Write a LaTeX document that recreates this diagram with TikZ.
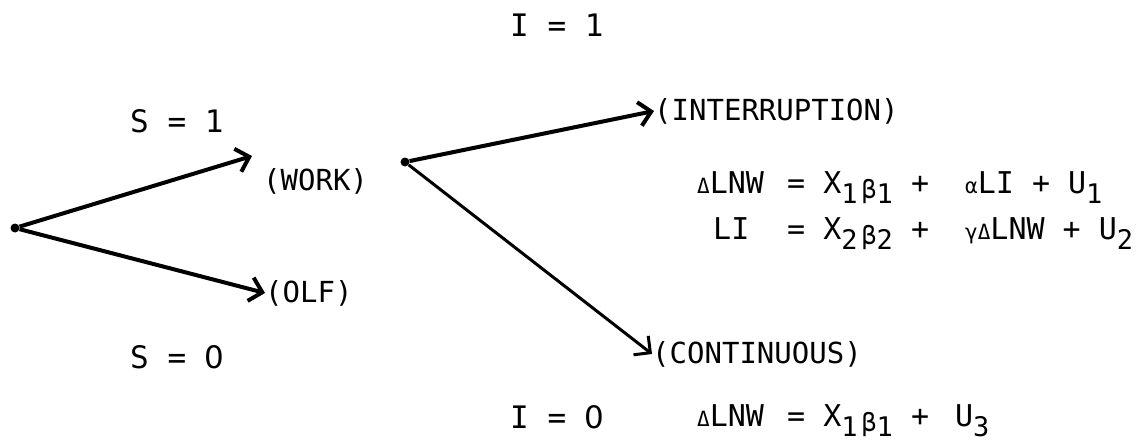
\documentclass[tikz,border=0pt]{standalone}
\usepackage{fontspec}
\setmainfont{DejaVu Sans Mono}
\newfontfamily\zerofont{DejaVu Sans}
\usetikzlibrary{positioning,calc,arrows.meta}

\newcommand{\lo}[1]{\raisebox{-10pt}{\fontsize{27}{27}\selectfont #1}}
\newcommand{\gr}[1]{{\fontsize{21}{21}\selectfont #1}}
\newcommand{\grb}[1]{\hspace{4pt}\raisebox{-5pt}{\fontsize{25}{25}\selectfont #1}}
\newcommand{\zro}{{\zerofont 0}}

\tikzset{
	dot/.style={circle,fill,inner sep=0pt,minimum size=9pt},
	lbl/.style={inner sep=0pt,font=\fontsize{29}{30}\selectfont},
	cond/.style={inner sep=0pt,font=\fontsize{31}{32}\selectfont},
	eqn/.style={inner sep=0pt,anchor=base west,font=\fontsize{30}{31}\selectfont},
	branch/.style={line width=4pt,-{Straight Barb[length=12pt,width=24pt]}},
}

\begin{document}
\begin{tikzpicture}[x=1pt,y=-1pt]
		\useasboundingbox (0,0) rectangle (1147,441);
		\node[dot] (root) at (15,228) {};
		\node[dot] (split) at (405,162) {};
		\node[lbl,anchor=west] (work) at (263,181) {(WORK)};
		\node[lbl,anchor=west] (olf) at (265,293) {(OLF)};
		\node[lbl,anchor=west] (intr) at (654,111) {(INTERRUPTION)};
		\node[lbl,anchor=west] (cont) at (652,354) {(CONTINUOUS)};
		\coordinate (worktip) at (252,156);
		%
		\node[cond,anchor=base west] (s1) at (130,132) {S = 1};
		\node[cond,anchor=base west] (s0) at (130,368) {S = \zro};
		\node[cond,anchor=base west] (i1) at (510,37) {I = 1};
		\node[cond,anchor=base west] (i0) at (510,428) {I = \zro};
		%
		\node[eqn] (eq1) at (697,193) {\makebox[90pt][l]{\gr{Δ}LNW}= X\lo{1}\grb{β}\lo{1} +\ \ \gr{α}LI + U\lo{1}};
		\node[eqn] (eq2) at (697,239) {\hspace*{16pt}\makebox[74pt][l]{LI}= X\lo{2}\grb{β}\lo{2} +\ \ \gr{γΔ}LNW + U\lo{2}};
		\node[eqn] (eq3) at (697,426) {\makebox[90pt][l]{\gr{Δ}LNW}= X\lo{1}\grb{β}\lo{1} +\hspace{8pt} U\lo{3}};
		%
		\draw[branch] (root) -- (worktip);
		\draw[branch] (root) -- (olf.west);
		\draw[branch] (split) -- (intr.west);
		\draw[branch,line width=3pt] (split) -- (cont.west);
	\end{tikzpicture}
\end{document}
